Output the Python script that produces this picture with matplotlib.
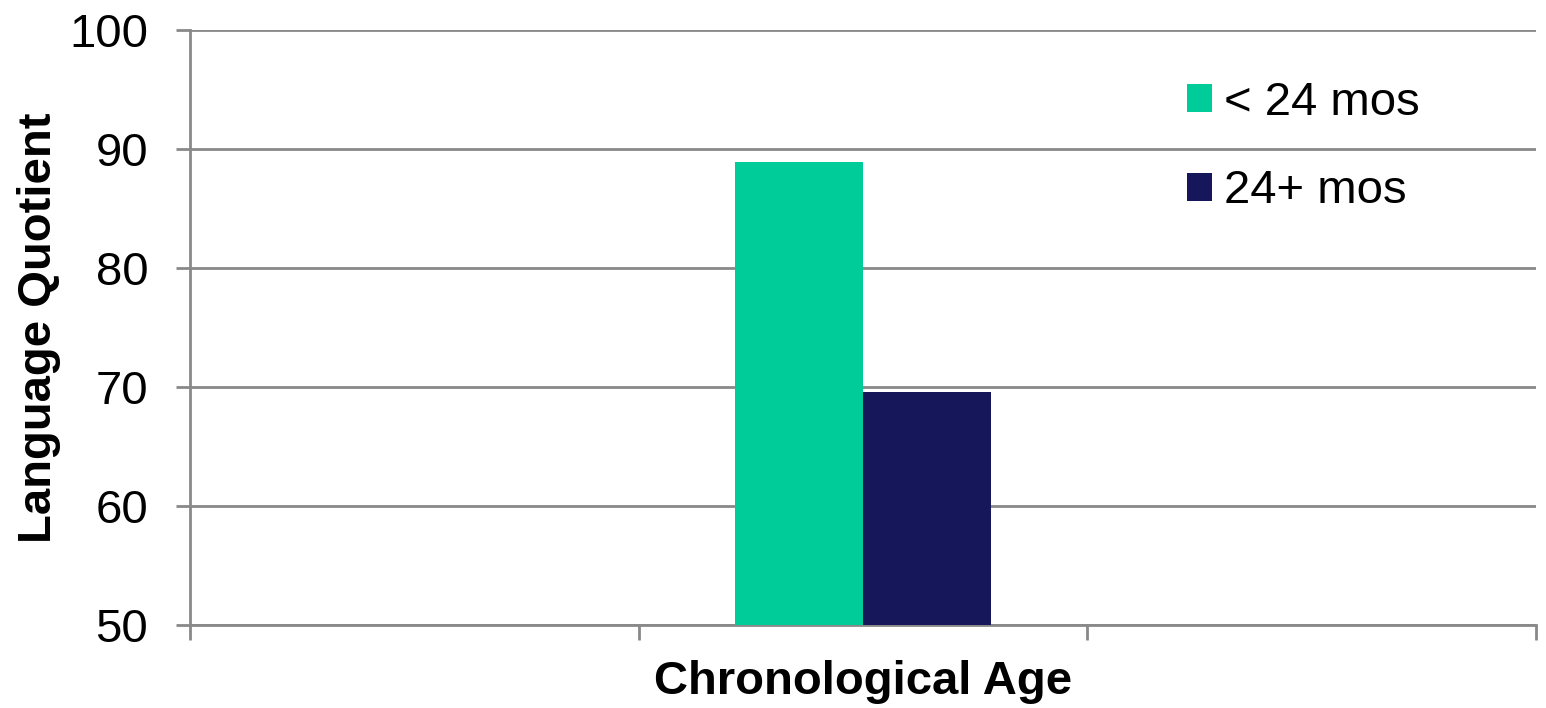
import numpy as np
import matplotlib
matplotlib.use("Agg")
import matplotlib.pyplot as plt
from matplotlib.patches import Patch

plt.rcParams['font.family'] = ['Liberation Sans', 'DejaVu Sans']

# Three category slots along the x axis; only the middle one carries data
slots = ["", "", ""]
series_names = ["< 24 mos", "24+ mos"]
under_24 = [np.nan, 88.9, np.nan]
over_24 = [np.nan, 69.6, np.nan]
colors = ["#00CC99", "#16165A"]
y_ticks = [50, 60, 70, 80, 90, 100]

fig = plt.figure(figsize=(15.46, 7.08), dpi=100)
ax = fig.add_axes([0.1229, 0.1172, 0.8706, 0.8404])

x = np.arange(len(slots))
w = 0.286
ax.bar(x - w / 2, under_24, width=w, color=colors[0], zorder=3)
ax.bar(x + w / 2, over_24, width=w, color=colors[1], zorder=3)

ax.set_xlim(-0.5, len(slots) - 0.5)
ax.set_ylim(50, 100)
ax.set_yticks(y_ticks)
ax.set_yticklabels([str(t) for t in y_ticks], fontsize=34)
ax.set_xticks(np.arange(len(slots) + 1) - 0.5)
ax.set_xticklabels([])

grid_col = "#898989"
ax.yaxis.grid(True, color=grid_col, linewidth=2, zorder=0)
ax.set_axisbelow(True)
for side in ("top", "right"):
    ax.spines[side].set_visible(False)
for side in ("left", "bottom"):
    ax.spines[side].set_color(grid_col)
    ax.spines[side].set_linewidth(2)
ax.tick_params(axis="y", direction="out", length=10, width=2, color=grid_col, pad=20)
ax.tick_params(axis="x", direction="out", length=11, width=2, color=grid_col)

ax.set_ylabel("Language Quotient", fontsize=34, fontweight="bold", labelpad=6)
ax.set_xlabel("Chronological Age", fontsize=34, fontweight="bold", labelpad=11)

handles = [Patch(facecolor=c, edgecolor="none") for c in colors]
leg = ax.legend(handles, series_names, loc="upper left", bbox_to_anchor=(0.741, 0.915),
                frameon=False, fontsize=34, handlelength=0.53, handleheight=0.53,
                handletextpad=0.25, labelspacing=0.95, borderaxespad=0, borderpad=0)

fig.savefig("out.png", dpi=100, facecolor="white")
